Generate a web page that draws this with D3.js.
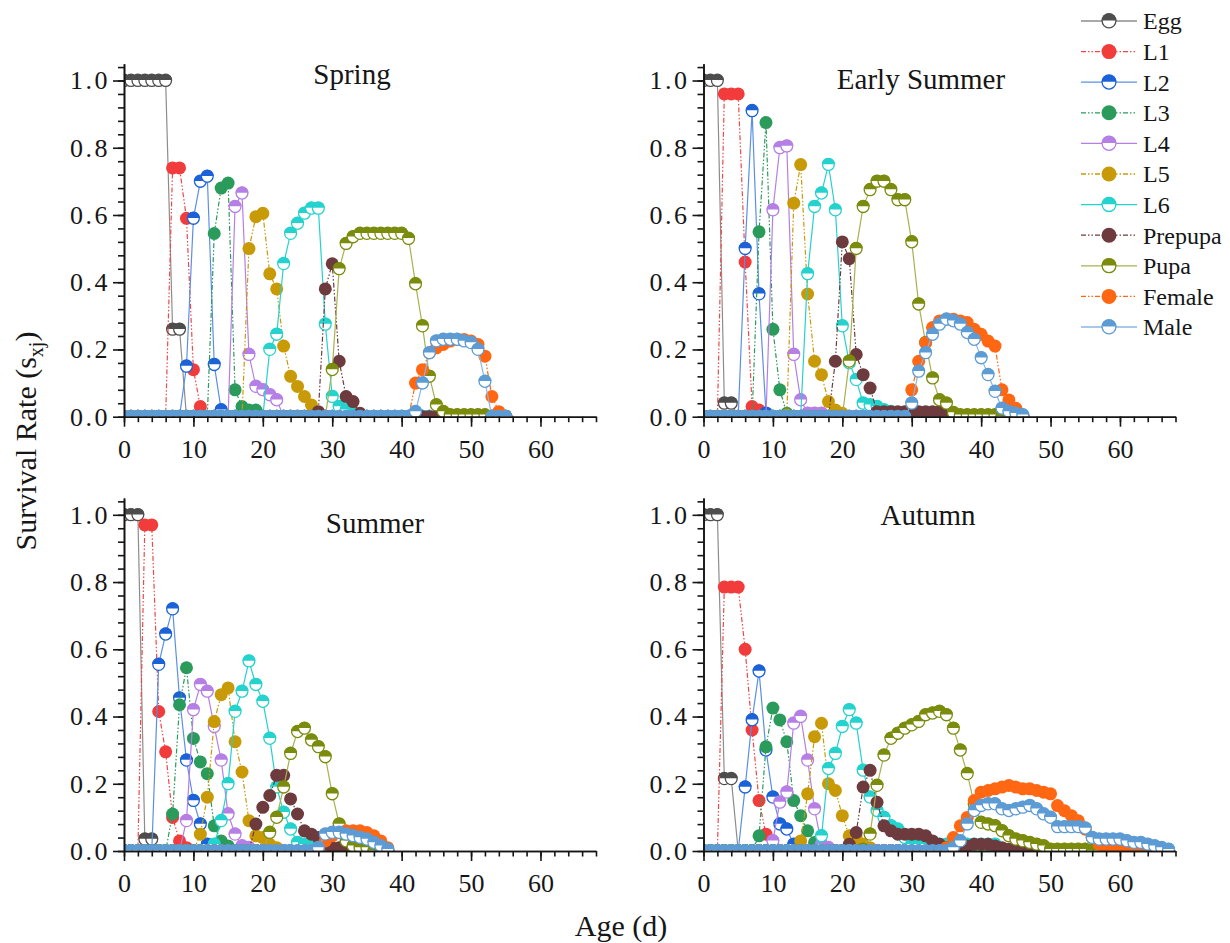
<!DOCTYPE html>
<html>
<head>
<meta charset="utf-8">
<script src="https://cdn.jsdelivr.net/npm/d3@7"></script>
<style>
  body { margin: 0; background: #fff; }
  text { font-family: "Liberation Serif", "Times New Roman", serif; fill: #161616; }
</style>
</head>
<body>
<svg id="chart" width="1230" height="943"></svg>
<script>
// stages, in drawing order (later ones sit on top)
const stages = ['Egg', 'L1', 'L2', 'L3', 'L4', 'L5', 'L6', 'Prepupa', 'Pupa', 'Female', 'Male'];
const markColor = ['#4d4d4d', '#f23b3b', '#1b62d8', '#2a9b5b', '#b57fe6', '#c99a08', '#24d2ce', '#6d3b3e', '#7b8b0b', '#ff6712', '#5c9bd4'];
const lineColor = ['#8c8c8c', '#f04848', '#5b8fe6', '#2a9b5b', '#b57fe6', '#c99a08', '#24d2ce', '#6d3b3e', '#a9b04f', '#ff6712', '#8ab6e2'];
const halfMark = [true, false, true, false, true, false, true, false, true, false, true];

const xMajor = [0, 10, 20, 30, 40, 50, 60];
const yMajor = [0, 0.2, 0.4, 0.6, 0.8, 1.0];

// each series: first day with a non-zero value, then the values day by day (zero elsewhere)
const springStart = [0, 7, 9, 13, 16, 18, 21, 28, 30, 42, 42];
const springVals = [
	[1, 1, 1, 1, 1, 1, 1, 0.26, 0.26],
	[0.74, 0.74, 0.59, 0.14, 0.03],
	[0.15, 0.59, 0.70, 0.715, 0.155, 0.02],
	[0.545, 0.68, 0.695, 0.08, 0.03, 0.02, 0.02],
	[0.625, 0.665, 0.185, 0.09, 0.08, 0.065, 0.05],
	[0.5, 0.595, 0.605, 0.425, 0.38, 0.21, 0.12, 0.09, 0.06, 0.035, 0.012],
	[0.2, 0.245, 0.455, 0.545, 0.575, 0.605, 0.62, 0.62, 0.275, 0.06, 0.03, 0.02, 0.01],
	[0.015, 0.38, 0.455, 0.165, 0.06, 0.045, 0.01],
	[0.14, 0.44, 0.515, 0.535, 0.545, 0.545, 0.545, 0.545, 0.545, 0.545, 0.545, 0.53, 0.395, 0.27, 0.12, 0.035, 0.015, 0.005, 0.005, 0.005, 0.005, 0.005, 0.005],
	[0.1, 0.14, 0.19, 0.205, 0.215, 0.225, 0.23, 0.23, 0.225, 0.215, 0.18, 0.06, 0.015],
	[0.015, 0.1, 0.19, 0.225, 0.23, 0.23, 0.23, 0.225, 0.22, 0.2, 0.105],
];

const earlyStart = [0, 3, 6, 8, 10, 12, 15, 19, 21, 30, 30];
const earlyVals = [
	[1, 1, 1, 0.04, 0.04],
	[0.96, 0.96, 0.96, 0.46, 0.03, 0.02, 0.01],
	[0.5, 0.91, 0.365, 0.01],
	[0.55, 0.875, 0.26, 0.08, 0.01],
	[0.615, 0.8, 0.805, 0.185, 0.05, 0.01, 0.01, 0.01],
	[0.005, 0.635, 0.75, 0.365, 0.165, 0.125, 0.045, 0.02, 0.01],
	[0.425, 0.625, 0.665, 0.75, 0.615, 0.27, 0.16, 0.11, 0.04, 0.035, 0.03, 0.02, 0.015, 0.01],
	[0.165, 0.52, 0.47, 0.185, 0.125, 0.085, 0.015, 0.015, 0.015, 0.015, 0.015, 0.015, 0.015, 0.015, 0.015, 0.015, 0.015],
	[0.165, 0.5, 0.625, 0.675, 0.7, 0.7, 0.675, 0.645, 0.645, 0.52, 0.335, 0.22, 0.115, 0.05, 0.04, 0.012, 0.005, 0.005, 0.005, 0.005, 0.005, 0.005],
	[0.08, 0.165, 0.22, 0.265, 0.285, 0.29, 0.29, 0.285, 0.28, 0.26, 0.245, 0.225, 0.21, 0.08, 0.05, 0.025, 0.005],
	[0.04, 0.135, 0.19, 0.245, 0.275, 0.29, 0.285, 0.275, 0.25, 0.23, 0.175, 0.125, 0.075, 0.025, 0.015, 0.01, 0.005],
];

const summerStart = [0, 3, 5, 7, 9, 11, 13, 19, 21, 29, 28];
const summerVals = [
	[1, 1, 1, 0.035, 0.035],
	[0.97, 0.97, 0.415, 0.295, 0.1, 0.03, 0.01],
	[0.555, 0.645, 0.72, 0.455, 0.27, 0.15, 0.08, 0.02, 0.01],
	[0.11, 0.435, 0.545, 0.335, 0.265, 0.23, 0.075, 0.03, 0.015],
	[0.09, 0.42, 0.495, 0.475, 0.37, 0.27, 0.11, 0.05, 0.015, 0.01],
	[0.05, 0.16, 0.385, 0.465, 0.485, 0.325, 0.235, 0.09, 0.045, 0.04, 0.02, 0.01],
	[0.02, 0.09, 0.2, 0.415, 0.475, 0.565, 0.495, 0.445, 0.335, 0.19, 0.115, 0.065, 0.025, 0.02, 0.015, 0.01, 0.005, 0.005],
	[0.08, 0.13, 0.165, 0.225, 0.225, 0.155, 0.11, 0.06, 0.05, 0.04, 0.02, 0.01, 0.01],
	[0.055, 0.1, 0.19, 0.29, 0.355, 0.365, 0.33, 0.31, 0.28, 0.17, 0.08, 0.03, 0.015, 0.01, 0.01],
	[0.03, 0.045, 0.055, 0.06, 0.06, 0.06, 0.055, 0.045, 0.03, 0.01],
	[0.01, 0.05, 0.055, 0.055, 0.05, 0.045, 0.04, 0.035, 0.025, 0.015, 0.005],
];

const autumnStart = [0, 3, 6, 8, 10, 14, 17, 21, 23, 35, 36];
const autumnVals = [
	[1, 1, 1, 0.215, 0.215],
	[0.785, 0.785, 0.785, 0.6, 0.36, 0.15, 0.05, 0.01],
	[0.19, 0.39, 0.535, 0.3, 0.16, 0.08, 0.065, 0.02, 0.01],
	[0.045, 0.31, 0.425, 0.39, 0.325, 0.15, 0.105, 0.06, 0.025, 0.01],
	[0.03, 0.145, 0.175, 0.38, 0.4, 0.27, 0.125, 0.02, 0.01],
	[0.03, 0.17, 0.34, 0.38, 0.2, 0.18, 0.105, 0.045, 0.04, 0.02, 0.01],
	[0.045, 0.245, 0.29, 0.37, 0.42, 0.38, 0.24, 0.16, 0.12, 0.1, 0.075, 0.065, 0.04, 0.02, 0.02, 0.02, 0.02, 0.02, 0.02, 0.02, 0.02, 0.02, 0.02, 0.02, 0.02, 0.02],
	[0.02, 0.055, 0.19, 0.24, 0.145, 0.075, 0.06, 0.05, 0.05, 0.05, 0.05, 0.045, 0.03, 0.02, 0.01, 0.005, 0.01, 0.015, 0.02, 0.02, 0.02, 0.015, 0.01, 0.005],
	[0.005, 0.05, 0.195, 0.285, 0.335, 0.35, 0.365, 0.375, 0.385, 0.405, 0.41, 0.415, 0.405, 0.365, 0.3, 0.23, 0.14, 0.085, 0.08, 0.075, 0.06, 0.045, 0.035, 0.03, 0.025, 0.02, 0.015, 0.005, 0.005, 0.005, 0.005, 0.005, 0.005],
	[0.01, 0.04, 0.075, 0.1, 0.15, 0.175, 0.18, 0.185, 0.19, 0.195, 0.19, 0.185, 0.185, 0.18, 0.175, 0.17, 0.135, 0.12, 0.105, 0.09, 0.065, 0.04, 0.02, 0.01, 0.005, 0.005],
	[0.01, 0.03, 0.08, 0.12, 0.135, 0.14, 0.14, 0.125, 0.12, 0.125, 0.13, 0.135, 0.125, 0.11, 0.1, 0.072, 0.072, 0.072, 0.072, 0.068, 0.04, 0.035, 0.035, 0.035, 0.035, 0.03, 0.025, 0.025, 0.02, 0.015, 0.01, 0.005],
];

const panels = [
	{ name: 'Spring', start: springStart, vals: springVals, lastDay: 55, left: 124, base: 416.7, tx: 352, ty: 84 },
	{ name: 'Early Summer', start: earlyStart, vals: earlyVals, lastDay: 46, left: 703.5, base: 416.7, tx: 921, ty: 89 },
	{ name: 'Summer', start: summerStart, vals: summerVals, lastDay: 38, left: 124, base: 851, tx: 375, ty: 533 },
	{ name: 'Autumn', start: autumnStart, vals: autumnVals, lastDay: 67, left: 703.5, base: 851, tx: 928, ty: 525 },
];

const svg = d3.select('#chart');
const W = 472, H = 353;
const dashDot = '5,2,1.5,2,1.5,2';

function seriesPoints(start, vals, lastDay) {
	return d3.range(0, lastDay + 1).map((d) => ({
		day: d,
		v: d >= start && d - start < vals.length ? vals[d - start] : 0,
	}));
}

function addMarker(sel, i, r) {
	if (halfMark[i]) {
		sel.append('circle').attr('r', r - 0.6).attr('fill', '#fff')
			.attr('stroke', markColor[i]).attr('stroke-width', 1.3);
		sel.append('path')
			.attr('d', `M${-r},-0.4A${r},${r} 0 0 1 ${r},-0.4Z`)
			.attr('fill', markColor[i]);
	} else {
		sel.append('circle').attr('r', r).attr('fill', markColor[i]);
	}
}

panels.forEach((p, k) => {
	const x = d3.scaleLinear().domain([0, 68]).range([p.left, p.left + W]);
	const y = d3.scaleLinear().domain([0, 1.05]).range([p.base, p.base - H]);

	const clipId = 'clip' + k;
	svg.append('clipPath').attr('id', clipId)
		.append('rect')
		.attr('x', p.left).attr('y', p.base - H - 12)
		.attr('width', W + 10).attr('height', H + 12);

	const g = svg.append('g').attr('clip-path', `url(#${clipId})`);
	const line = d3.line().x((d) => x(d.day)).y((d) => y(d.v));

	stages.forEach((s, i) => {
		const pts = seriesPoints(p.start[i], p.vals[i], p.lastDay);
		g.append('path').datum(pts)
			.attr('d', line)
			.attr('fill', 'none')
			.attr('stroke', lineColor[i])
			.attr('stroke-width', 1.2)
			.attr('stroke-dasharray', halfMark[i] ? null : dashDot);
		const m = g.append('g').selectAll('g').data(pts).join('g')
			.attr('transform', (d) => `translate(${x(d.day)},${y(d.v)})`);
		addMarker(m, i, 6.5);
	});

	// axes
	const xMinor = svg.append('g').attr('transform', `translate(0,${p.base})`)
		.call(d3.axisBottom(x).tickValues(d3.range(0, 69, 2)).tickSize(5.5).tickSizeOuter(0).tickFormat(''));
	const xAx = svg.append('g').attr('transform', `translate(0,${p.base})`)
		.call(d3.axisBottom(x).tickValues(xMajor).tickSize(10).tickSizeOuter(0).tickPadding(13));
	const yMinor = svg.append('g').attr('transform', `translate(${p.left},0)`)
		.call(d3.axisLeft(y).tickValues(d3.range(0, 1.05, 0.04)).tickSize(6).tickSizeOuter(0).tickFormat(''));
	const yAx = svg.append('g').attr('transform', `translate(${p.left},0)`)
		.call(d3.axisLeft(y).tickValues(yMajor).tickSize(11).tickSizeOuter(0).tickPadding(3).tickFormat(d3.format('.1f')));

	[xMinor, xAx, yMinor, yAx].forEach((a) => {
		a.selectAll('path, line').attr('stroke', '#151515').attr('stroke-width', 1.6);
		a.selectAll('text').attr('font-size', 26).attr('font-family', '"Liberation Serif", serif').attr('fill', '#161616');
	});
	yAx.selectAll('text').attr('letter-spacing', 2.5);

	svg.append('text')
		.attr('x', p.tx).attr('y', p.ty)
		.attr('text-anchor', 'middle')
		.attr('font-size', 29)
		.text(p.name);
});

// axis titles
const yTitle = svg.append('text')
	.attr('transform', 'translate(36,441) rotate(-90)')
	.attr('text-anchor', 'middle')
	.attr('font-size', 30);
yTitle.append('tspan').text('Survival Rate (s');
yTitle.append('tspan').attr('font-size', 20).attr('dy', 7).text('xj');
yTitle.append('tspan').attr('dy', -7).text(')');

svg.append('text')
	.attr('x', 621).attr('y', 936)
	.attr('text-anchor', 'middle')
	.attr('font-size', 30)
	.text('Age (d)');

// legend
const legend = svg.append('g');
stages.forEach((s, i) => {
	const ly = 21 + i * 30.6;
	const row = legend.append('g');
	row.append('line')
		.attr('x1', 1081).attr('x2', 1137).attr('y1', ly).attr('y2', ly)
		.attr('stroke', lineColor[i]).attr('stroke-width', 1.3)
		.attr('stroke-dasharray', halfMark[i] ? null : dashDot);
	const mk = row.append('g').attr('transform', `translate(1109,${ly})`);
	addMarker(mk, i, 7.5);
	row.append('text')
		.attr('x', 1143).attr('y', ly).attr('dy', '0.35em')
		.attr('font-size', 24)
		.text(s);
});
</script>
</body>
</html>
